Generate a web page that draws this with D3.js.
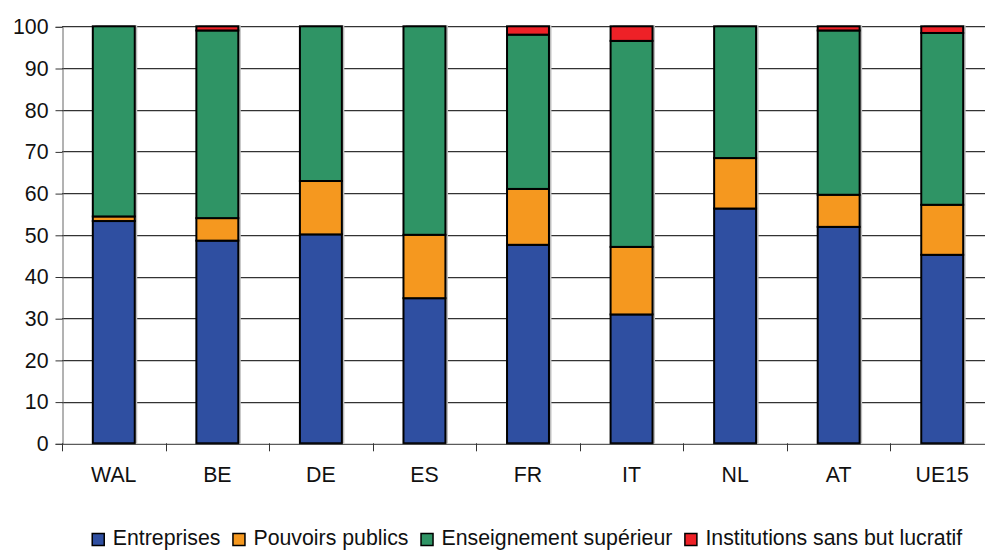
<!DOCTYPE html>
<html><head><meta charset="utf-8">
<script src="https://cdn.jsdelivr.net/npm/d3@7"></script>
<style>
html,body{margin:0;padding:0;background:#fff;overflow:hidden}
svg{display:block;font-family:"Liberation Sans",Arial,sans-serif}
</style></head>
<body>
<svg id="c" width="985" height="550"></svg>
<script>
const categories = ["WAL","BE","DE","ES","FR","IT","NL","AT","UE15"];
const seriesNames = ["Entreprises","Pouvoirs publics","Enseignement supérieur","Institutions sans but lucratif"];
const entreprises   = [53.3, 48.6, 50.1, 34.8, 47.6, 30.9, 56.3, 51.9, 45.2];
const pouvoirs      = [1.1, 5.4, 12.8, 15.2, 13.4, 16.2, 12.1, 7.7, 12.0];
const enseignement  = [45.6, 45.0, 37.1, 50.0, 37.0, 49.4, 31.6, 39.4, 41.2];
const institutions  = [0.0, 1.0, 0.0, 0.0, 2.0, 3.5, 0.0, 1.0, 1.6];
const yTicks = [0,10,20,30,40,50,60,70,80,90,100];
const colors = ["#2F4FA1","#F5981F","#2F9465","#EE2127"];

(function(){
const svg = d3.select("#c");
const FS = 21.3;
const mLeft = 62, mRight = 994, mTop = 26.3, mBottom = 443.3;
const x = d3.scaleBand().domain(categories).range([mLeft, mRight]).paddingInner(0.595).paddingOuter(0.2975);
const y = d3.scaleLinear().domain([0,100]).range([mBottom, mTop]);

// gridlines
svg.append("g").selectAll("line").data(yTicks.filter(d=>d>0)).join("line")
  .attr("x1", mLeft).attr("x2", mRight)
  .attr("y1", d=>Math.round(y(d))+1.5).attr("y2", d=>Math.round(y(d))+1.5)
  .attr("stroke", "#ccc").attr("stroke-width", 1);
svg.append("g").selectAll("line").data(yTicks.filter(d=>d>0)).join("line")
  .attr("x1", mLeft).attr("x2", mRight)
  .attr("y1", d=>Math.round(y(d))+0.5).attr("y2", d=>Math.round(y(d))+0.5)
  .attr("stroke", "#333").attr("stroke-width", 1);

// y axis
const yAxis = d3.axisLeft(y).tickValues(yTicks).tickSize(7).tickPadding(7);
const gy = svg.append("g").attr("transform", `translate(${mLeft+0.5},0.5)`).call(yAxis);
gy.select(".domain").attr("stroke","#666");
gy.selectAll(".tick line").attr("stroke","#333");
gy.selectAll(".tick text").attr("font-size", FS).attr("fill","#111")
  .attr("font-family","'Liberation Sans',Arial,sans-serif");

// stacked data
const rows = categories.map((c,i)=>({cat:c, "Entreprises":entreprises[i], "Pouvoirs publics":pouvoirs[i],
  "Enseignement supérieur":enseignement[i], "Institutions sans but lucratif":institutions[i]}));
const stack = d3.stack().keys(seriesNames)(rows);

// shadows
svg.append("g").selectAll("rect").data(rows).join("rect")
  .attr("x", d=>x(d.cat)+2.5).attr("width", x.bandwidth())
  .attr("y", y(100)-1).attr("height", mBottom - y(100)+1)
  .attr("fill", "#bdbdbd");

const gBars = svg.append("g");
stack.forEach((s,si)=>{
  gBars.append("g").selectAll("rect").data(s.filter(d=>d[1]-d[0]>0.05)).join("rect")
    .attr("x", d=>x(d.data.cat)).attr("width", x.bandwidth())
    .attr("y", d=>y(d[1])).attr("height", d=>y(d[0])-y(d[1]))
    .attr("fill", colors[si]).attr("stroke","#000").attr("stroke-width",2);
});

// x axis
const xAxis = d3.axisBottom(x).tickSize(0).tickPadding(23);
const gx = svg.append("g").attr("transform", `translate(0,${mBottom+0.5})`).call(xAxis);
gx.select(".domain").attr("stroke","#333");
gx.selectAll(".tick text").attr("font-size", FS).attr("fill","#111")
  .attr("font-family","'Liberation Sans',Arial,sans-serif");
// boundary ticks
const bounds = d3.range(categories.length+1).map(i=>mLeft + i*x.step());
svg.append("g").selectAll("line").data(bounds).join("line")
  .attr("x1", d=>Math.round(d)+0.5).attr("x2", d=>Math.round(d)+0.5)
  .attr("y1", mBottom).attr("y2", mBottom+8).attr("stroke","#333");

// legend
const lg = svg.append("g");
let cx = 0;
seriesNames.forEach((n,i)=>{
  const g = lg.append("g");
  g.append("rect").attr("x",0.5).attr("y",-11.5).attr("width",12).attr("height",12)
    .attr("fill",colors[i]).attr("stroke","#000").attr("stroke-width",1.5);
  const t = g.append("text").attr("x",21).attr("y",0).attr("font-size",FS).attr("fill","#111").text(n);
  g.attr("transform",`translate(${cx},0)`);
  cx += 21 + t.node().getComputedTextLength() + 12;
});
const total = cx - 12;
lg.attr("transform", `translate(${527 - total/2},545)`);
})();
</script>
</body></html>
